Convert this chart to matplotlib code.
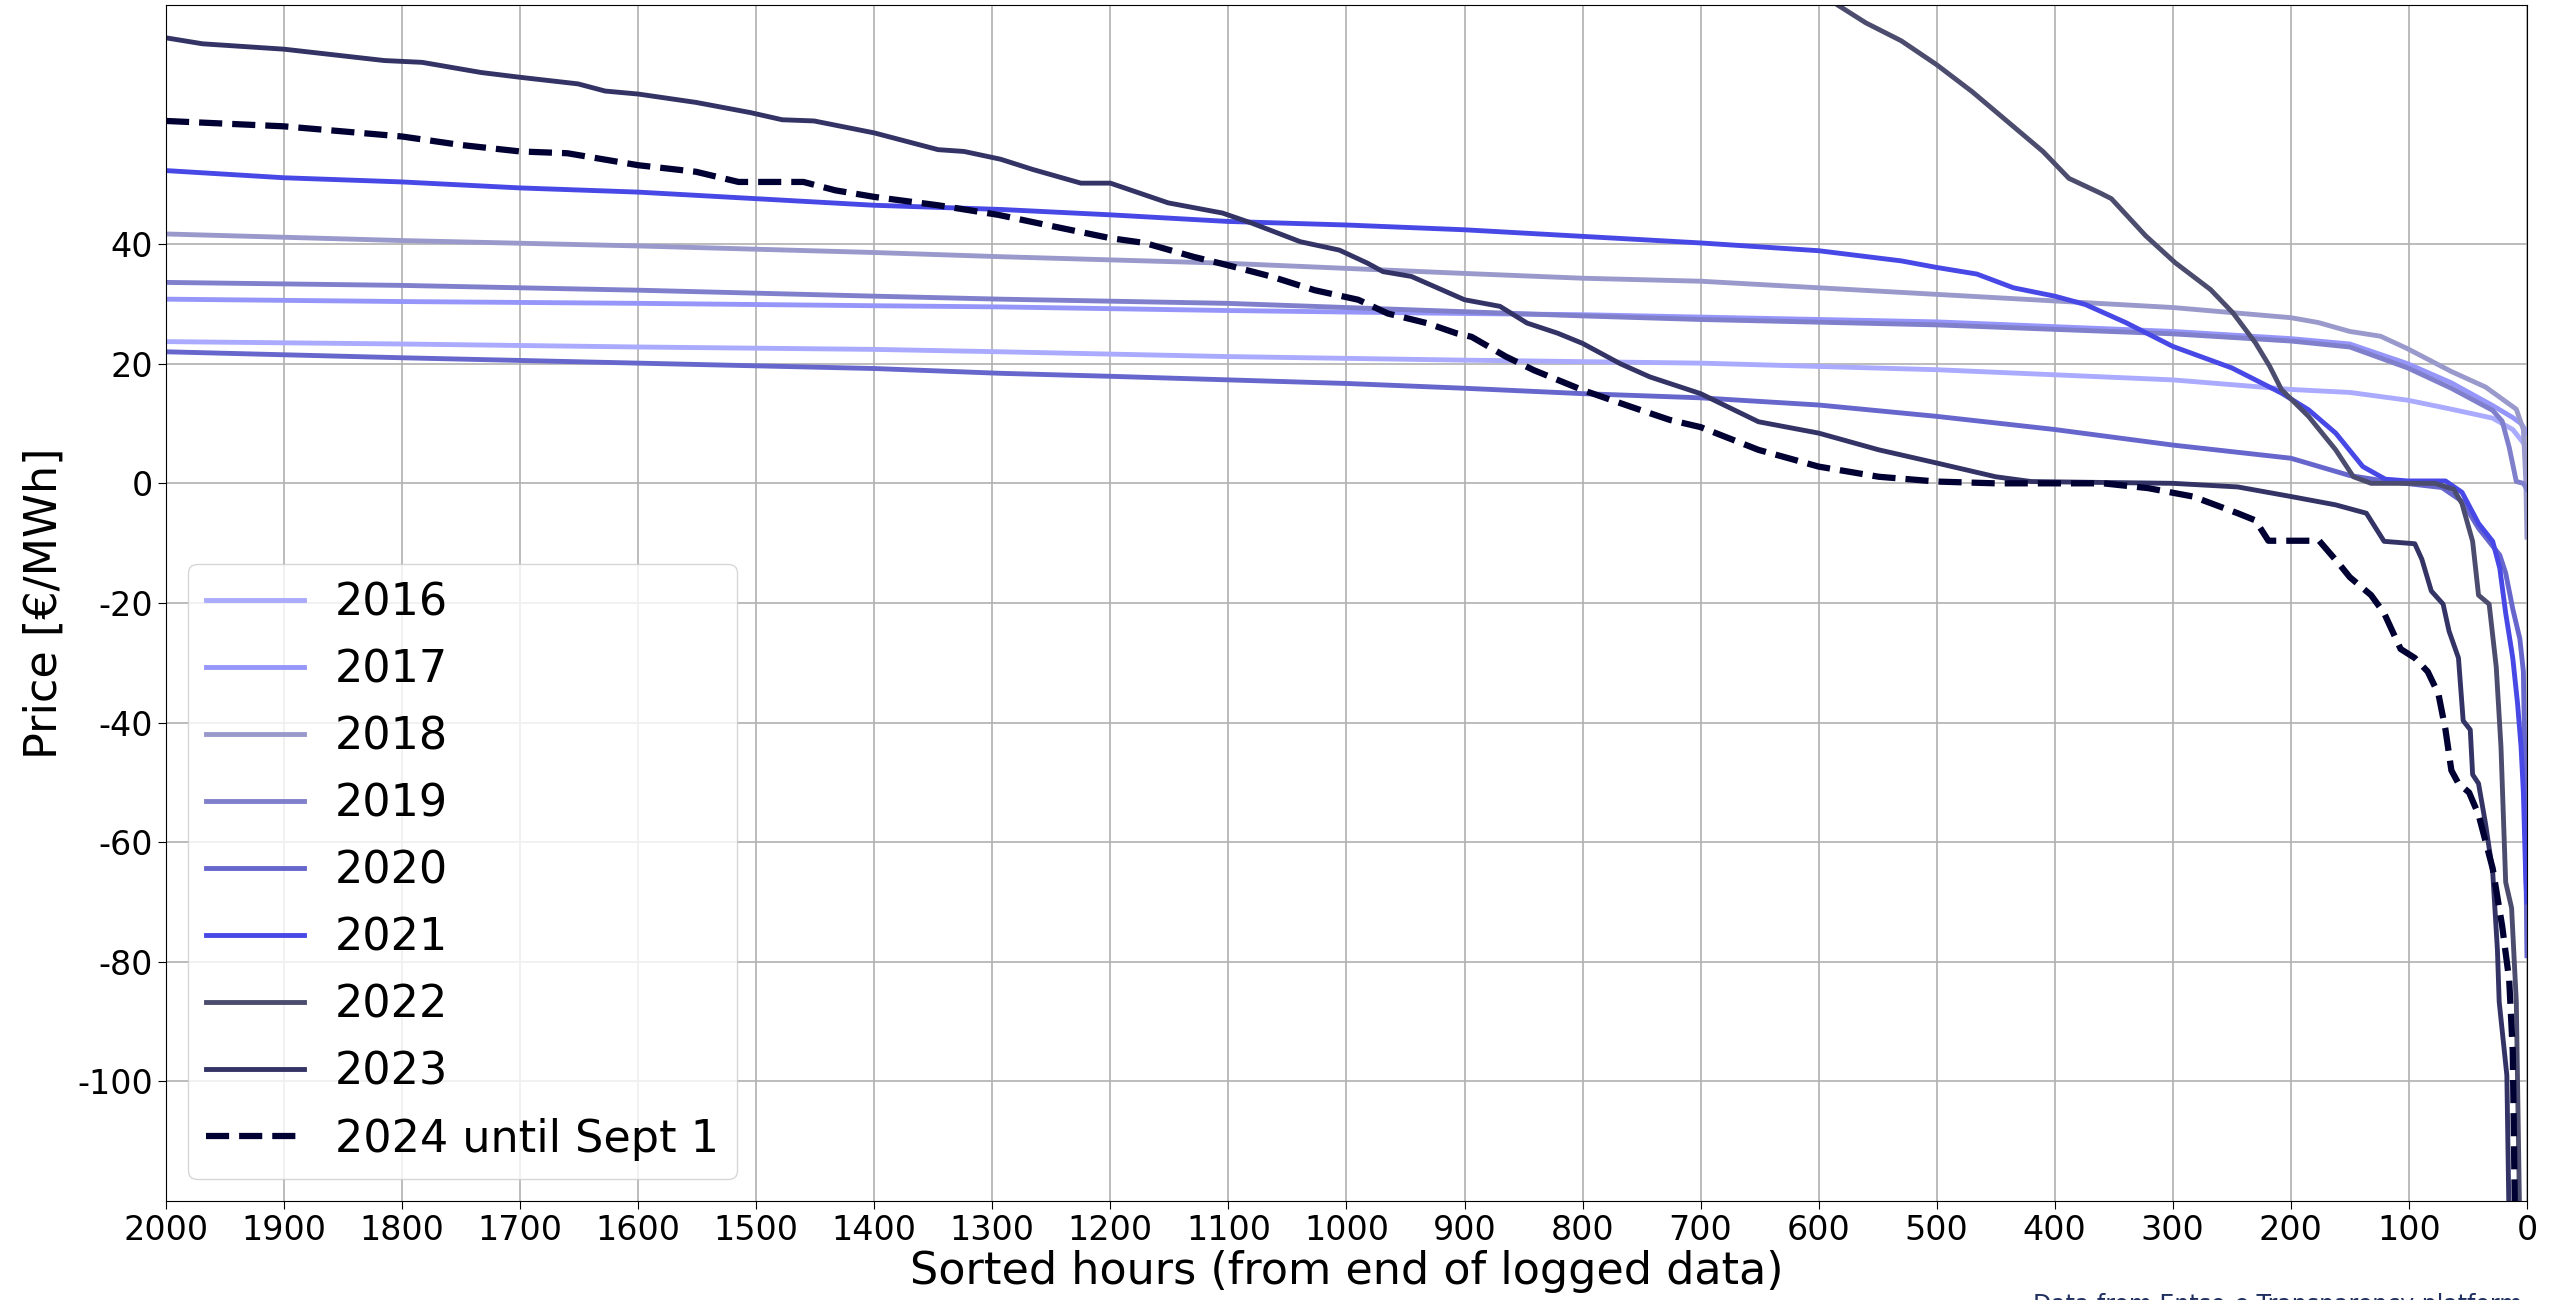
import numpy as np
import matplotlib.pyplot as plt

plt.rcParams['axes.unicode_minus'] = False

# price duration curves, last 2000 hours of each year (sorted, read from end)
h2016 = [2000, 1800, 1600, 1400, 1293, 1101, 900, 700, 500, 300, 200, 150, 101, 64, 29, 12, 6, 2, 0]
p2016 = [23.7, 23.3, 22.8, 22.4, 22.0, 21.2, 20.6, 20.1, 19.0, 17.3, 15.7, 15.2, 13.9, 12.4, 10.9, 9.0, 7.5, 6.5, 6.0]

h2017 = [2000, 1800, 1600, 1400, 1293, 1101, 900, 800, 700, 500, 300, 200, 150, 101, 64, 29, 12, 5, 0]
p2017 = [30.8, 30.4, 30.1, 29.7, 29.5, 28.9, 28.4, 28.2, 27.8, 27.0, 25.4, 24.2, 23.3, 20.0, 16.8, 13.0, 11.0, 10.0, 8.5]

h2018 = [2000, 1800, 1600, 1400, 1293, 1101, 900, 800, 700, 600, 500, 400, 300, 200, 177, 150, 124, 101, 64, 35, 9, 3, 1, 0]
p2018 = [41.7, 40.6, 39.7, 38.6, 37.9, 36.8, 35.1, 34.3, 33.8, 32.7, 31.6, 30.5, 29.4, 27.7, 26.9, 25.4, 24.6, 22.5, 18.7, 16.1, 12.4, 9.0, 0.7, -9.0]

h2019 = [2000, 1800, 1600, 1400, 1293, 1101, 900, 800, 700, 500, 300, 200, 150, 101, 64, 29, 21, 15, 9, 3, 0]
p2019 = [33.6, 33.1, 32.3, 31.3, 30.8, 30.1, 28.7, 28.0, 27.4, 26.5, 25.0, 23.8, 22.8, 19.3, 15.9, 12.2, 10.4, 6.0, 0.3, 0.0, -1.0]

h2020 = [2000, 1800, 1600, 1400, 1293, 1200, 1000, 900, 800, 700, 600, 500, 400, 300, 200, 150, 121, 72, 55, 41, 23, 18, 12, 6, 3, 2, 0]
p2020 = [22.0, 21.0, 20.1, 19.2, 18.4, 17.9, 16.7, 15.9, 15.0, 14.3, 13.1, 11.2, 9.0, 6.4, 4.2, 1.3, 0.4, -0.7, -3.0, -7.5, -12.0, -15.0, -21.0, -26.0, -31.5, -44.0, -79.0]

h2021 = [2000, 1900, 1800, 1700, 1600, 1500, 1400, 1293, 1200, 1101, 1000, 900, 800, 700, 600, 530, 500, 466, 435, 400,
         374, 340, 300, 250, 208, 185, 162, 139, 120, 101, 69, 55, 41, 29, 23, 18, 12, 8, 5, 3, 1, 0]
p2021 = [52.3, 51.1, 50.4, 49.4, 48.7, 47.6, 46.5, 45.8, 44.9, 43.8, 43.2, 42.4, 41.3, 40.2, 38.9, 37.2, 36.1, 35.0, 32.7, 31.3,
         29.9, 26.9, 22.9, 19.3, 15.1, 12.3, 8.4, 2.8, 0.7, 0.4, 0.4, -1.5, -6.7, -9.7, -14.2, -21.7, -29.2, -36.7, -44.0, -51.7, -66.0, -70.0]

# 2022 is off the top of the plot until ~600 h
h2022 = [620, 584, 560, 530, 500, 470, 443, 410, 388, 361, 352, 323, 298, 268, 249, 230, 218, 208, 185, 162,
         147, 132, 100, 78, 62, 55, 46, 41, 32, 26, 22, 18, 13, 9, 6]
p2022 = [86.0, 80.0, 77.0, 74.0, 70.0, 65.5, 61.0, 55.5, 51.0, 48.5, 47.6, 41.4, 36.9, 32.4, 28.5, 23.5, 19.6, 15.7, 11.2, 5.6,
         1.1, 0.0, 0.0, 0.0, -1.0, -3.4, -9.7, -18.7, -20.2, -30.7, -44.0, -66.7, -71.0, -86.7, -125.0]

h2023 = [2000, 1969, 1900, 1815, 1783, 1733, 1700, 1651, 1628, 1600, 1551, 1505, 1478, 1451, 1400, 1346, 1324, 1293, 1266, 1225,
         1200, 1151, 1105, 1080, 1039, 1006, 982, 969, 945, 900, 870, 847, 821, 800, 768, 743, 700, 651, 600, 549,
         500, 450, 420, 300, 245, 200, 162, 136, 121, 95, 89, 81, 71, 66, 58, 54, 48, 46, 41, 35,
         29, 25, 23.5, 17, 15]
p2023 = [74.5, 73.5, 72.6, 70.7, 70.4, 68.7, 67.9, 66.8, 65.6, 65.1, 63.7, 62.0, 60.8, 60.6, 58.6, 55.8, 55.5, 54.2, 52.5, 50.2,
         50.2, 46.9, 45.2, 43.5, 40.4, 39.0, 36.8, 35.4, 34.6, 30.7, 29.6, 26.8, 25.1, 23.4, 20.0, 17.8, 15.0, 10.3, 8.4, 5.6,
         3.4, 1.1, 0.3, 0.0, -0.6, -2.2, -3.6, -5.0, -9.7, -10.1, -12.7, -18.0, -20.2, -24.7, -29.2, -39.7, -41.2, -48.7, -50.2, -57.0,
         -65.0, -78.0, -86.7, -99.0, -125.0]

h2024 = [2000, 1900, 1800, 1751, 1700, 1660, 1600, 1551, 1515, 1460, 1433, 1400, 1346, 1295, 1254, 1200, 1171, 1130, 1101, 1064,
         1027, 990, 965, 932, 907, 894, 865, 841, 800, 759, 726, 700, 651, 600, 549, 500, 450, 359, 321, 283,
         245, 230, 219, 176, 159, 150, 132, 121, 107, 95, 84, 75, 69, 64, 58, 49, 41, 29, 21, 15,
         12, 10]
p2024 = [60.6, 59.7, 58.0, 56.6, 55.5, 55.2, 53.2, 52.1, 50.4, 50.4, 49.0, 47.9, 46.5, 44.9, 43.2, 41.0, 40.2, 37.9, 36.5, 34.6,
         32.3, 30.7, 28.4, 26.8, 25.1, 24.5, 21.2, 18.9, 15.6, 12.8, 10.6, 9.4, 5.6, 2.8, 1.1, 0.3, 0.0, 0.0, -0.8, -2.2,
         -5.0, -6.2, -9.6, -9.6, -13.5, -15.7, -18.7, -21.7, -27.7, -29.2, -31.5, -35.2, -41.2, -48.0, -50.2, -51.7, -55.4, -64.4, -74.0, -83.1,
         -95.0, -125.0]

years = ['2016', '2017', '2018', '2019', '2020', '2021', '2022', '2023', '2024 until Sept 1']
hours = [h2016, h2017, h2018, h2019, h2020, h2021, h2022, h2023, h2024]
prices = [p2016, p2017, p2018, p2019, p2020, p2021, p2022, p2023, p2024]
colors = ['#aaaaff', '#9696fa', '#9999cc', '#7f7fcc', '#6666cc', '#4848e6', '#4c4c6e', '#333366', '#000033']

yticks = [-100, -80, -60, -40, -20, 0, 20, 40]
xticks = list(range(2000, -1, -100))

fig = plt.figure(figsize=(25.54, 13), dpi=100)
ax = fig.add_axes([0.065, 0.0762, 0.9244, 0.92])

for i in range(len(years)):
    if i == len(years) - 1:
        ax.plot(hours[i], prices[i], '--', color=colors[i], lw=4.5, label=years[i])
    else:
        ax.plot(hours[i], prices[i], '-', color=colors[i], lw=3.5, label=years[i])

ax.set_xlim(2000, 0)
ax.set_ylim(-120, 80)
ax.set_xticks(xticks)
ax.set_yticks(yticks)
ax.tick_params(labelsize=24, length=6)
ax.grid(True, color='#b0b0b0', lw=1.2)
ax.set_xlabel('Sorted hours (from end of logged data)', fontsize=32, labelpad=2)
ax.set_ylabel('Price [€/MWh]', fontsize=32, labelpad=8)

ax.legend(loc='lower left', fontsize=32, labelspacing=0.54, handlelength=2.2,
          handletextpad=0.7, borderaxespad=0.5)

# source note, mostly below the bottom edge as in the original export
fig.text(0.9875, 0.0055, 'Data from Entso-e Transparency platform', ha='right', va='top',
         fontsize=17, color='#1f2f5f')

fig.savefig('out.png', dpi=100)
